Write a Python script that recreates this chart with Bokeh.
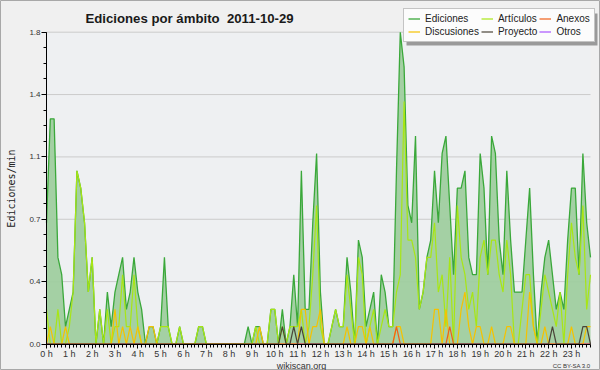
from bokeh.plotting import figure
from bokeh.models import (Range1d, FixedTicker, CustomJSTickFormatter, Legend,
                          LegendItem, Label, BoxAnnotation)
from bokeh.embed import file_html
from bokeh.resources import INLINE

# ---- data: edits per minute, 10-minute bins, 2011-10-29 ----
n_bins = 144
hours = [i / 6 for i in range(n_bins)]

ediciones = [
    0.7, 1.3, 1.3, 0.5, 0.4, 0.1, 0.2, 0.3, 1.0, 0.9, 0.7, 0.3, 0.5, 0.0, 0.2, 0.0,
    0.3, 0.1, 0.3, 0.4, 0.5, 0.2, 0.3, 0.5, 0.3, 0.2, 0.0, 0.1, 0.1, 0.0, 0.1, 0.5,
    0.1, 0.0, 0.0, 0.1, 0.0, 0.0, 0.0, 0.0, 0.1, 0.1, 0.0, 0.0, 0.0, 0.0, 0.0, 0.0,
    0.0, 0.0, 0.0, 0.0, 0.0, 0.1, 0.0, 0.1, 0.1, 0.0, 0.0, 0.2, 0.2, 0.0, 0.2, 0.0,
    0.1, 0.4, 0.1, 1.0, 0.2, 0.2, 0.7, 1.1, 0.3, 0.0, 0.0, 0.1, 0.2, 0.1, 0.1, 0.5,
    0.3, 0.0, 0.6, 0.5, 0.1, 0.2, 0.3, 0.0, 0.4, 0.3, 0.1, 0.1, 1.0, 1.8, 1.6, 0.8,
    0.7, 1.2, 0.2, 0.3, 0.5, 0.6, 1.0, 0.7, 1.1, 1.2, 0.8, 0.4, 0.9, 0.9, 1.0, 0.5,
    0.4, 0.4, 1.1, 0.9, 0.4, 1.2, 1.1, 0.6, 0.4, 1.0, 0.6, 0.3, 0.3, 0.3, 0.6, 0.9,
    0.4, 0.0, 0.3, 0.5, 0.6, 0.4, 0.2, 0.3, 0.2, 0.6, 0.9, 0.9, 0.4, 1.1, 0.7, 0.5,
]
articulos = [
    0.2, 0.0, 0.0, 0.2, 0.0, 0.0, 0.1, 0.3, 1.0, 0.9, 0.7, 0.3, 0.5, 0.0, 0.2, 0.0,
    0.2, 0.0, 0.1, 0.1, 0.4, 0.1, 0.1, 0.4, 0.1, 0.0, 0.0, 0.0, 0.0, 0.0, 0.1, 0.1,
    0.1, 0.0, 0.0, 0.1, 0.0, 0.0, 0.0, 0.0, 0.1, 0.1, 0.0, 0.0, 0.0, 0.0, 0.0, 0.0,
    0.0, 0.0, 0.0, 0.0, 0.0, 0.0, 0.0, 0.1, 0.0, 0.0, 0.0, 0.2, 0.2, 0.0, 0.1, 0.0,
    0.1, 0.1, 0.1, 0.2, 0.0, 0.1, 0.4, 0.8, 0.1, 0.0, 0.0, 0.1, 0.2, 0.1, 0.1, 0.4,
    0.2, 0.0, 0.5, 0.4, 0.0, 0.1, 0.2, 0.0, 0.1, 0.2, 0.1, 0.1, 0.3, 0.4, 1.4, 0.6,
    0.6, 0.5, 0.2, 0.3, 0.5, 0.5, 0.7, 0.3, 0.4, 0.1, 0.5, 0.0, 0.8, 0.5, 0.4, 0.2,
    0.3, 0.1, 0.5, 0.6, 0.4, 0.6, 0.6, 0.4, 0.3, 0.6, 0.4, 0.0, 0.0, 0.2, 0.4, 0.4,
    0.1, 0.0, 0.2, 0.4, 0.3, 0.2, 0.1, 0.3, 0.0, 0.4, 0.7, 0.5, 0.4, 0.8, 0.2, 0.4,
]
discusiones = [
    0.0, 0.1, 0.0, 0.0, 0.0, 0.1, 0.0, 0.0, 0.0, 0.0, 0.0, 0.0, 0.0, 0.0, 0.0, 0.0,
    0.0, 0.0, 0.2, 0.0, 0.1, 0.0, 0.1, 0.0, 0.1, 0.0, 0.0, 0.1, 0.1, 0.0, 0.0, 0.0,
    0.0, 0.0, 0.0, 0.0, 0.0, 0.0, 0.0, 0.0, 0.0, 0.0, 0.0, 0.0, 0.0, 0.0, 0.0, 0.0,
    0.0, 0.0, 0.0, 0.0, 0.0, 0.0, 0.0, 0.0, 0.1, 0.0, 0.0, 0.0, 0.0, 0.0, 0.0, 0.0,
    0.0, 0.0, 0.0, 0.2, 0.2, 0.0, 0.1, 0.1, 0.2, 0.0, 0.0, 0.0, 0.0, 0.0, 0.0, 0.1,
    0.0, 0.0, 0.1, 0.1, 0.0, 0.1, 0.0, 0.0, 0.0, 0.0, 0.0, 0.0, 0.1, 0.1, 0.0, 0.0,
    0.0, 0.0, 0.0, 0.0, 0.0, 0.0, 0.2, 0.2, 0.0, 0.2, 0.0, 0.0, 0.0, 0.2, 0.3, 0.1,
    0.0, 0.1, 0.1, 0.0, 0.0, 0.1, 0.0, 0.0, 0.0, 0.1, 0.1, 0.0, 0.0, 0.0, 0.0, 0.3,
    0.1, 0.0, 0.0, 0.1, 0.0, 0.0, 0.0, 0.0, 0.0, 0.0, 0.1, 0.0, 0.0, 0.0, 0.1, 0.1,
]
anexos = [0.0] * 92 + [0.1] + [0.0] * 13 + [0.1] + [0.0] * 37
proyecto = ([0.0] * 62 + [0.1, 0.0, 0.0, 0.1, 0.0, 0.1] + [0.0] * 65 + [0.1]
            + [0.0] * 7 + [0.1, 0.1, 0.0])
otros = [0.0] * n_bins

hour_ticks = list(range(24))
hour_labels = [f"{h} h" for h in hour_ticks]
y_ticks = [0.0, 0.36, 0.72, 1.08, 1.44, 1.8]
y_labels = ["0.0", "0.4", "0.7", "1.1", "1.4", "1.8"]
y_minor = [k * 0.09 for k in range(21)]
y_max = 1.8

# ---- layout in page pixels: the plotting frame fills the whole canvas ----
W, H = 600, 370
PX0, PX1 = 46, 590            # plot area left/right
PY_TOP, PY_BOT = 31.7, 343.5  # plot area top/bottom
sx = (PX1 - PX0) / hours[-1]
sy = (PY_BOT - PY_TOP) / y_max

p = figure(width=W, height=H, output_backend="svg", toolbar_location=None,
           min_border=0,
           x_range=Range1d(-PX0 / sx, hours[-1] + (W - PX1) / sx),
           y_range=Range1d(-(H - PY_BOT) / sy, y_max + PY_TOP / sy))
p.background_fill_color = "#f0f0f0"
p.border_fill_color = "#f0f0f0"
p.outline_line_color = "#a8a8a8"
p.xgrid.visible = False
p.ygrid.visible = False

# plot area background and horizontal grid lines
p.add_layout(BoxAnnotation(left=0, right=hours[-1], bottom=0, top=y_max,
                           fill_color="#eef0f2", fill_alpha=1.0, line_color=None,
                           level="underlay"))
p.segment(x0=[0] * (len(y_ticks) - 1), x1=[hours[-1]] * (len(y_ticks) - 1),
          y0=y_ticks[1:], y1=y_ticks[1:], line_color="#cbcbcb", line_width=1)

C_ED, C_ED_FILL = "#3aa83a", "#9fce9f"
C_ART, C_DIS, C_ANX, C_PRO, C_OTR = "#a8e614", "#f5c200", "#f06018", "#4a4438", "#9933ff"

p.varea(x=hours, y1=[0.0] * n_bins, y2=ediciones, fill_color=C_ED_FILL, fill_alpha=0.95)
r_otr = p.line(hours, otros, line_color=C_OTR, line_width=1.0)
r_ed = p.line(hours, ediciones, line_color=C_ED, line_width=1.3)
r_art = p.line(hours, articulos, line_color=C_ART, line_width=1.2)
r_dis = p.line(hours, discusiones, line_color=C_DIS, line_width=1.2)
r_anx = p.line(hours, anexos, line_color=C_ANX, line_width=1.2)
r_pro = p.line(hours, proyecto, line_color=C_PRO, line_width=1.2)

# ---- axes (fixed at the data origin) ----
fmt_code = ("const k = tks.findIndex(t => Math.abs(t - tick) < 1e-6);"
            "return k < 0 ? '' : lbls[k];")
p.xaxis.ticker = FixedTicker(ticks=hour_ticks, minor_ticks=hours)
p.yaxis.ticker = FixedTicker(ticks=y_ticks, minor_ticks=y_minor)
p.xaxis.formatter = CustomJSTickFormatter(args=dict(tks=hour_ticks, lbls=hour_labels), code=fmt_code)
p.yaxis.formatter = CustomJSTickFormatter(args=dict(tks=y_ticks, lbls=y_labels), code=fmt_code)
p.xaxis.fixed_location = 0
p.yaxis.fixed_location = 0
p.xaxis.bounds = (0, hours[-1])
p.yaxis.bounds = (0, y_max)

for ax in (p.xaxis, p.yaxis):
    ax.axis_line_color = "black"
    ax.major_tick_line_color = "black"
    ax.minor_tick_line_color = "black"
    ax.major_tick_in = 0
    ax.minor_tick_in = 0
    ax.major_label_text_font = "Liberation Sans"
    ax.major_label_text_color = "#333333"
p.xaxis.major_tick_out = 4
p.xaxis.minor_tick_out = 3
p.xaxis.major_label_text_font_size = "9px"
p.xaxis.major_label_standoff = 1
p.yaxis.major_tick_out = 5
p.yaxis.minor_tick_out = 3
p.yaxis.major_label_text_font_size = "8px"
p.yaxis.major_label_standoff = 1
p.yaxis.axis_label = "Ediciones/min"
p.yaxis.axis_label_text_font = "DejaVu Sans Mono"
p.yaxis.axis_label_text_font_size = "10px"
p.yaxis.axis_label_text_font_style = "normal"
p.yaxis.axis_label_text_color = "#222222"
p.yaxis.axis_label_standoff = 9

# ---- texts (screen units, measured from the canvas bottom-left) ----
p.add_layout(Label(x=85, y=H - 18, x_units="screen", y_units="screen",
                   text="Ediciones por ámbito\u00a0 2011-10-29", text_font="Liberation Sans",
                   text_font_style="bold", text_font_size="13.2px", text_color="#1a1a1a",
                   text_baseline="alphabetic"))
p.add_layout(Label(x=301, y=H - 365, x_units="screen", y_units="screen", text="wikiscan.org",
                   text_font="Liberation Sans", text_font_size="9px", text_color="#333333",
                   text_align="center", text_baseline="alphabetic"))
p.add_layout(Label(x=590, y=H - 365, x_units="screen", y_units="screen", text="CC BY-SA 3.0",
                   text_font="Liberation Sans", text_font_size="6px", text_color="#333333",
                   text_align="right", text_baseline="alphabetic"))

# ---- legend with drop shadow ----
LX, LTOP, LW, LH = 403, 10, 191, 32
p.add_layout(BoxAnnotation(left=LX + 3, right=LX + LW + 3, top=H - LTOP - 3,
                           bottom=H - LTOP - LH - 3,
                           left_units="screen", right_units="screen", top_units="screen",
                           bottom_units="screen", fill_color="#9a9a9a", fill_alpha=1.0,
                           line_color=None))
legend = Legend(items=[
    LegendItem(label="Ediciones", renderers=[r_ed]),
    LegendItem(label="Discusiones", renderers=[r_dis]),
    LegendItem(label="Artículos", renderers=[r_art]),
    LegendItem(label="Proyecto", renderers=[r_pro]),
    LegendItem(label="Anexos", renderers=[r_anx]),
    LegendItem(label="Otros", renderers=[r_otr]),
], nrows=2, location=(LX, H - LTOP - LH))
legend.label_text_font = "Liberation Sans"
legend.label_text_font_size = "10px"
legend.label_text_color = "#222222"
legend.glyph_width = 12
legend.glyph_height = 11
legend.label_height = 11
legend.label_standoff = 5
legend.spacing = 2
legend.padding = 4
legend.margin = 0
legend.border_line_color = "#8c8c8c"
legend.background_fill_color = "#fcfcfc"
legend.background_fill_alpha = 1.0
p.add_layout(legend)

open("out.html", "w").write(file_html(p, INLINE))
